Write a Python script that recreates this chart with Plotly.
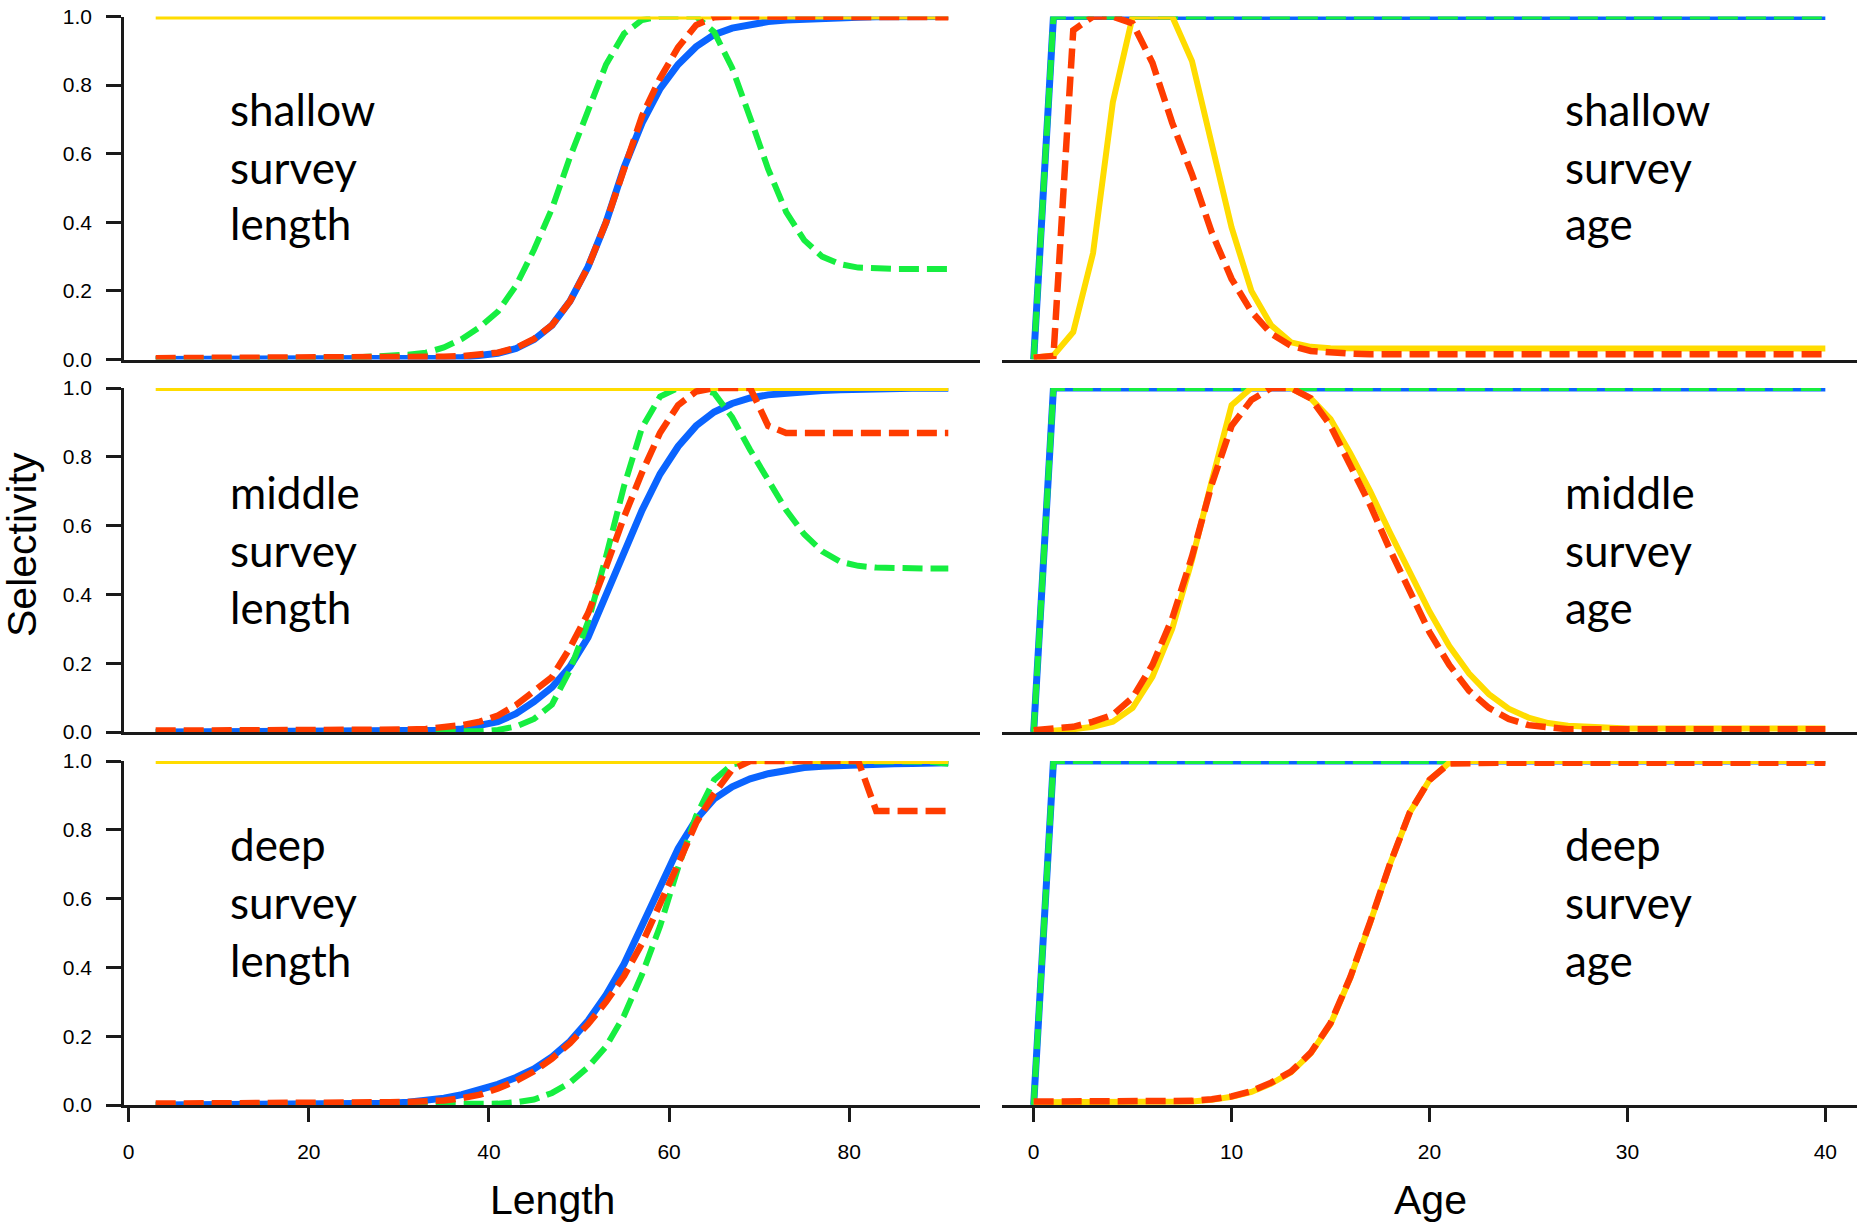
import plotly.graph_objects as go

# ---------------- data ----------------
len_x = [3, 5, 7, 9, 11, 13, 15, 17, 19, 21, 23, 25, 27, 29, 31, 33, 35, 37, 39, 41, 43, 45,
         47, 49, 51, 53, 55, 57, 59, 61, 63, 65, 67, 69, 71, 73, 75, 77, 79, 81, 83, 85, 87, 89, 91]
age_x = [0, 1, 2, 3, 4, 5, 6, 7, 8, 9, 10, 11, 12, 13, 14, 15, 16, 17, 18, 19, 20,
         21, 22, 23, 24, 25, 26, 27, 28, 29, 30, 31, 32, 33, 34, 35, 36, 37, 38, 39, 40]

x_ticks_len = [0, 20, 40, 60, 80]
x_ticks_age = [0, 10, 20, 30, 40]
y_ticks = [0.0, 0.2, 0.4, 0.6, 0.8, 1.0]
y_tick_text = ["0.0", "0.2", "0.4", "0.6", "0.8", "1.0"]

panel_labels = [["shallow", "survey", "length"], ["shallow", "survey", "age"],
                ["middle", "survey", "length"], ["middle", "survey", "age"],
                ["deep", "survey", "length"], ["deep", "survey", "age"]]

# shallow survey, length
shallow_len_blue = [0.000, 0.000, 0.000, 0.000, 0.000, 0.001, 0.001, 0.001, 0.001, 0.001, 0.001, 0.001,
                    0.002, 0.002, 0.002, 0.003, 0.004, 0.006, 0.010, 0.018, 0.032, 0.058, 0.100, 0.170,
                    0.270, 0.400, 0.560, 0.690, 0.790, 0.860, 0.912, 0.947, 0.966, 0.978, 0.985, 0.990,
                    0.993, 0.995, 0.997, 0.998, 0.999, 0.999, 0.999, 1.000, 1.000]
shallow_len_green = [0.001, 0.001, 0.001, 0.001, 0.002, 0.002, 0.002, 0.003, 0.003, 0.004, 0.005, 0.006,
                     0.008, 0.010, 0.014, 0.020, 0.035, 0.060, 0.095, 0.140, 0.215, 0.320, 0.440, 0.590,
                     0.720, 0.860, 0.950, 0.990, 1.000, 1.000, 1.000, 0.955, 0.850, 0.705, 0.555, 0.430,
                     0.348, 0.300, 0.278, 0.268, 0.265, 0.264, 0.264, 0.264, 0.264]
shallow_len_yellow = [1.0, 1.0, 1.0, 1.0, 1.0, 1.0, 1.0, 1.0, 1.0, 1.0, 1.0, 1.0, 1.0, 1.0, 1.0,
                      1.0, 1.0, 1.0, 1.0, 1.0, 1.0, 1.0, 1.0, 1.0, 1.0, 1.0, 1.0, 1.0, 1.0, 1.0,
                      1.0, 1.0, 1.0, 1.0, 1.0, 1.0, 1.0, 1.0, 1.0, 1.0, 1.0, 1.0, 1.0, 1.0, 1.0]
shallow_len_red = [0.004, 0.004, 0.004, 0.005, 0.005, 0.005, 0.005, 0.005, 0.006, 0.006, 0.006, 0.006,
                   0.007, 0.007, 0.007, 0.008, 0.008, 0.010, 0.014, 0.020, 0.034, 0.060, 0.100, 0.170,
                   0.270, 0.400, 0.555, 0.710, 0.820, 0.910, 0.975, 0.998, 1.000, 1.000, 1.000, 1.000,
                   1.000, 1.000, 1.000, 1.000, 1.000, 1.000, 1.000, 1.000, 0.998]

# middle survey, length
middle_len_blue = [0.000, 0.000, 0.000, 0.000, 0.000, 0.001, 0.001, 0.001, 0.001, 0.001, 0.001, 0.002,
                   0.002, 0.002, 0.003, 0.004, 0.005, 0.009, 0.017, 0.030, 0.053, 0.088, 0.130, 0.190,
                   0.275, 0.395, 0.520, 0.645, 0.750, 0.830, 0.890, 0.930, 0.955, 0.971, 0.980, 0.986,
                   0.990, 0.993, 0.995, 0.997, 0.998, 0.999, 0.999, 0.999, 0.999]
middle_len_green = [0.000, 0.000, 0.000, 0.000, 0.000, 0.000, 0.000, 0.000, 0.000, 0.000, 0.000, 0.000,
                    0.000, 0.000, 0.000, 0.000, 0.000, 0.000, 0.002, 0.006, 0.016, 0.038, 0.080, 0.180,
                    0.320, 0.510, 0.715, 0.885, 0.975, 1.000, 1.000, 0.985, 0.915, 0.820, 0.730, 0.645,
                    0.575, 0.525, 0.495, 0.483, 0.478, 0.476, 0.475, 0.475, 0.475]
middle_len_yellow = [1.0, 1.0, 1.0, 1.0, 1.0, 1.0, 1.0, 1.0, 1.0, 1.0, 1.0, 1.0, 1.0, 1.0, 1.0,
                     1.0, 1.0, 1.0, 1.0, 1.0, 1.0, 1.0, 1.0, 1.0, 1.0, 1.0, 1.0, 1.0, 1.0, 1.0,
                     1.0, 1.0, 1.0, 1.0, 1.0, 1.0, 1.0, 1.0, 1.0, 1.0, 1.0, 1.0, 1.0, 1.0, 1.0]
middle_len_red = [0.004, 0.004, 0.004, 0.004, 0.005, 0.005, 0.005, 0.005, 0.005, 0.006, 0.006, 0.006,
                  0.006, 0.007, 0.007, 0.009, 0.013, 0.020, 0.030, 0.048, 0.078, 0.120, 0.160, 0.245,
                  0.345, 0.480, 0.625, 0.755, 0.870, 0.950, 0.990, 1.000, 1.000, 1.000, 0.890, 0.869,
                  0.869, 0.869, 0.869, 0.869, 0.869, 0.869, 0.869, 0.869, 0.869]

# deep survey, length
deep_len_blue = [0.000, 0.000, 0.000, 0.001, 0.001, 0.001, 0.001, 0.001, 0.002, 0.002, 0.002, 0.003,
                 0.004, 0.005, 0.008, 0.012, 0.020, 0.030, 0.043, 0.060, 0.080, 0.105, 0.140, 0.185,
                 0.245, 0.320, 0.410, 0.520, 0.635, 0.745, 0.830, 0.890, 0.925, 0.948, 0.963, 0.974,
                 0.981, 0.985, 0.988, 0.990, 0.991, 0.992, 0.993, 0.994, 0.995]
deep_len_green = [0.000, 0.000, 0.000, 0.000, 0.000, 0.000, 0.000, 0.000, 0.000, 0.000, 0.000, 0.000,
                  0.000, 0.000, 0.000, 0.000, 0.000, 0.001, 0.002, 0.004, 0.008, 0.016, 0.035, 0.065,
                  0.110, 0.170, 0.260, 0.380, 0.520, 0.690, 0.840, 0.945, 0.990, 1.000, 1.000, 1.000,
                  1.000, 1.000, 1.000, 1.000, 1.000, 1.000, 1.000, 0.998, 0.992]
deep_len_yellow = [1.0, 1.0, 1.0, 1.0, 1.0, 1.0, 1.0, 1.0, 1.0, 1.0, 1.0, 1.0, 1.0, 1.0, 1.0,
                   1.0, 1.0, 1.0, 1.0, 1.0, 1.0, 1.0, 1.0, 1.0, 1.0, 1.0, 1.0, 1.0, 1.0, 1.0,
                   1.0, 1.0, 1.0, 1.0, 1.0, 1.0, 1.0, 1.0, 1.0, 1.0, 1.0, 1.0, 1.0, 1.0, 1.0]
deep_len_red = [0.004, 0.004, 0.004, 0.005, 0.005, 0.005, 0.005, 0.006, 0.006, 0.006, 0.007, 0.007,
                0.008, 0.008, 0.009, 0.010, 0.013, 0.020, 0.030, 0.048, 0.070, 0.098, 0.135, 0.180,
                0.235, 0.300, 0.375, 0.470, 0.580, 0.700, 0.820, 0.905, 0.975, 1.000, 1.000, 1.000,
                1.000, 1.000, 1.000, 1.000, 0.855, 0.855, 0.855, 0.855, 0.855]

# shallow survey, age
shallow_age_blue = [0.0, 1.0, 1.0, 1.0, 1.0, 1.0, 1.0, 1.0, 1.0, 1.0, 1.0, 1.0, 1.0, 1.0,
                    1.0, 1.0, 1.0, 1.0, 1.0, 1.0, 1.0, 1.0, 1.0, 1.0, 1.0, 1.0, 1.0, 1.0,
                    1.0, 1.0, 1.0, 1.0, 1.0, 1.0, 1.0, 1.0, 1.0, 1.0, 1.0, 1.0, 1.0]
shallow_age_green = [0.0, 1.0, 1.0, 1.0, 1.0, 1.0, 1.0, 1.0, 1.0, 1.0, 1.0, 1.0, 1.0, 1.0,
                     1.0, 1.0, 1.0, 1.0, 1.0, 1.0, 1.0, 1.0, 1.0, 1.0, 1.0, 1.0, 1.0, 1.0,
                     1.0, 1.0, 1.0, 1.0, 1.0, 1.0, 1.0, 1.0, 1.0, 1.0, 1.0, 1.0, 1.0]
shallow_age_yellow = [0.005, 0.012, 0.080, 0.310, 0.750, 1.000, 1.000, 1.000, 0.870, 0.620, 0.385,
                      0.200, 0.100, 0.050, 0.037, 0.033, 0.032, 0.032, 0.032, 0.032, 0.032, 0.032,
                      0.032, 0.032, 0.032, 0.032, 0.032, 0.032, 0.032, 0.032, 0.032, 0.032, 0.032,
                      0.032, 0.032, 0.032, 0.032, 0.032, 0.032, 0.032, 0.032]
shallow_age_red = [0.005, 0.010, 0.960, 1.000, 1.000, 0.980, 0.865, 0.690, 0.540, 0.370, 0.235,
                   0.140, 0.075, 0.040, 0.025, 0.020, 0.017, 0.015, 0.015, 0.015, 0.015, 0.015,
                   0.015, 0.015, 0.015, 0.015, 0.015, 0.015, 0.015, 0.015, 0.015, 0.015, 0.015,
                   0.015, 0.015, 0.015, 0.015, 0.015, 0.015, 0.015, 0.015]

# middle survey, age
middle_age_blue = [0.0, 1.0, 1.0, 1.0, 1.0, 1.0, 1.0, 1.0, 1.0, 1.0, 1.0, 1.0, 1.0, 1.0,
                   1.0, 1.0, 1.0, 1.0, 1.0, 1.0, 1.0, 1.0, 1.0, 1.0, 1.0, 1.0, 1.0, 1.0,
                   1.0, 1.0, 1.0, 1.0, 1.0, 1.0, 1.0, 1.0, 1.0, 1.0, 1.0, 1.0, 1.0]
middle_age_green = [0.0, 1.0, 1.0, 1.0, 1.0, 1.0, 1.0, 1.0, 1.0, 1.0, 1.0, 1.0, 1.0, 1.0,
                    1.0, 1.0, 1.0, 1.0, 1.0, 1.0, 1.0, 1.0, 1.0, 1.0, 1.0, 1.0, 1.0, 1.0,
                    1.0, 1.0, 1.0, 1.0, 1.0, 1.0, 1.0, 1.0, 1.0, 1.0, 1.0, 1.0, 1.0]
middle_age_yellow = [0.000, 0.002, 0.008, 0.015, 0.030, 0.070, 0.160, 0.300, 0.500, 0.730, 0.950,
                     1.000, 1.000, 1.000, 0.970, 0.910, 0.810, 0.700, 0.580, 0.465, 0.350, 0.250,
                     0.170, 0.110, 0.068, 0.042, 0.026, 0.018, 0.014, 0.012, 0.010, 0.010, 0.010,
                     0.010, 0.010, 0.010, 0.010, 0.010, 0.010, 0.010, 0.010]
middle_age_red = [0.005, 0.010, 0.015, 0.030, 0.050, 0.100, 0.195, 0.330, 0.510, 0.720, 0.890,
                  0.965, 1.000, 1.000, 0.970, 0.890, 0.780, 0.660, 0.530, 0.405, 0.290, 0.195,
                  0.120, 0.070, 0.038, 0.020, 0.012, 0.008, 0.008, 0.008, 0.008, 0.008, 0.008,
                  0.008, 0.008, 0.008, 0.008, 0.008, 0.008, 0.008, 0.008]

# deep survey, age
deep_age_blue = [0.0, 1.0, 1.0, 1.0, 1.0, 1.0, 1.0, 1.0, 1.0, 1.0, 1.0, 1.0, 1.0, 1.0,
                 1.0, 1.0, 1.0, 1.0, 1.0, 1.0, 1.0, 1.0, 1.0, 1.0, 1.0, 1.0, 1.0, 1.0,
                 1.0, 1.0, 1.0, 1.0, 1.0, 1.0, 1.0, 1.0, 1.0, 1.0, 1.0, 1.0, 1.0]
deep_age_green = [0.0, 1.0, 1.0, 1.0, 1.0, 1.0, 1.0, 1.0, 1.0, 1.0, 1.0, 1.0, 1.0, 1.0,
                  1.0, 1.0, 1.0, 1.0, 1.0, 1.0, 1.0, 1.0, 1.0, 1.0, 1.0, 1.0, 1.0, 1.0,
                  1.0, 1.0, 1.0, 1.0, 1.0, 1.0, 1.0, 1.0, 1.0, 1.0, 1.0, 1.0, 1.0]
deep_age_yellow = [0.008, 0.008, 0.008, 0.008, 0.008, 0.008, 0.008, 0.008, 0.010, 0.015, 0.024,
                   0.038, 0.062, 0.095, 0.150, 0.235, 0.370, 0.530, 0.700, 0.850, 0.945, 0.995,
                   1.000, 1.000, 1.000, 1.000, 1.000, 1.000, 1.000, 1.000, 1.000, 1.000, 1.000,
                   1.000, 1.000, 1.000, 1.000, 1.000, 1.000, 1.000, 1.000]
deep_age_red = [0.010, 0.010, 0.010, 0.010, 0.010, 0.010, 0.010, 0.010, 0.012, 0.017, 0.025,
                0.040, 0.065, 0.097, 0.152, 0.238, 0.372, 0.532, 0.700, 0.850, 0.945, 0.993,
                0.995, 0.995, 0.995, 0.995, 0.995, 0.995, 0.995, 0.995, 0.995, 0.995, 0.995,
                0.995, 0.995, 0.995, 0.995, 0.995, 0.995, 0.995, 0.995]

# ---------------- styling ----------------
W, H = 1863, 1225
BLUE = "#0A64FF"
GREEN = "#16EE40"
YELLOW = "#FFDC00"
RED = "#FF3C00"
AXIS_COL = "#1a1a1a"
TICK_FONT = dict(family="Liberation Sans, Arial, sans-serif", size=21, color="black")
LABEL_FONT = dict(family="Lato, Carlito, sans-serif", size=44, color="black")
TITLE_FONT = dict(family="Liberation Sans, Arial, sans-serif", size=41, color="black")
DASH = "20px,8px"

# pixel geometry -> paper fractions
def px_x(p):
    return p / W

def px_y(p):
    return 1 - p / H

left_dom = [px_x(124), px_x(980)]
right_dom = [px_x(1002), px_x(1857)]
row_doms = [[px_y(359.5), px_y(16.5)], [px_y(732), px_y(388)], [px_y(1105), px_y(761)]]
len_range = [-0.52, 94.52]
age_range = [-1.6, 41.6]

panels = [
    (len_x, shallow_len_blue, shallow_len_green, shallow_len_yellow, shallow_len_red),
    (age_x, shallow_age_blue, shallow_age_green, shallow_age_yellow, shallow_age_red),
    (len_x, middle_len_blue, middle_len_green, middle_len_yellow, middle_len_red),
    (age_x, middle_age_blue, middle_age_green, middle_age_yellow, middle_age_red),
    (len_x, deep_len_blue, deep_len_green, deep_len_yellow, deep_len_red),
    (age_x, deep_age_blue, deep_age_green, deep_age_yellow, deep_age_red),
]

fig = go.Figure()
layout = dict(
    width=W, height=H, autosize=False,
    margin=dict(l=0, r=0, t=0, b=0, pad=0),
    paper_bgcolor="white", plot_bgcolor="white",
    showlegend=False, hovermode=False,
)

# label y positions (data units) for each row, x positions for each column
label_y = [[0.730, 0.561, 0.397], [0.698, 0.529, 0.363], [0.759, 0.590, 0.422]]
label_x = [11.0, 26.75]

annotations = []
for i, (xs, yb, yg, yy, yr) in enumerate(panels):
    row, col = i // 2, i % 2
    n = i + 1
    xa = "x" if n == 1 else f"x{n}"
    ya = "y" if n == 1 else f"y{n}"
    for ys, color, width, dash in [(yb, BLUE, 7, "solid"), (yg, GREEN, 6, DASH),
                                   (yy, YELLOW, 6, "solid"), (yr, RED, 6.5, DASH)]:
        fig.add_trace(go.Scatter(x=xs, y=ys, mode="lines", xaxis=xa, yaxis=ya,
                                 line=dict(color=color, width=width, dash=dash),
                                 hoverinfo="skip", showlegend=False))
    bottom = row == 2
    xkey = "xaxis" if n == 1 else f"xaxis{n}"
    ykey = "yaxis" if n == 1 else f"yaxis{n}"
    layout[xkey] = dict(
        domain=left_dom if col == 0 else right_dom,
        range=len_range if col == 0 else age_range,
        anchor=ya, showline=True, linecolor=AXIS_COL, linewidth=2.5,
        showgrid=False, zeroline=False, automargin=False,
        ticks="outside" if bottom else "", ticklen=14, tickwidth=2.5, tickcolor=AXIS_COL,
        tickvals=(x_ticks_len if col == 0 else x_ticks_age) if bottom else [],
        showticklabels=bottom, tickfont=TICK_FONT, ticklabelstandoff=12,
        fixedrange=True,
    )
    layout[ykey] = dict(
        domain=row_doms[row], range=[0, 1], anchor=xa,
        visible=(col == 0), showline=True, linecolor=AXIS_COL, linewidth=2.5,
        showgrid=False, zeroline=False, automargin=False,
        ticks="outside", ticklen=15, tickwidth=2.5, tickcolor=AXIS_COL,
        tickvals=y_ticks, ticktext=y_tick_text, tickfont=TICK_FONT,
        ticklabelstandoff=10, fixedrange=True,
    )
    for k, word in enumerate(panel_labels[i]):
        annotations.append(dict(
            text=word, xref=xa, yref=ya, x=label_x[col], y=label_y[row][k],
            xanchor="left", yanchor="middle", showarrow=False, font=LABEL_FONT,
        ))

annotations.append(dict(text="Selectivity", xref="paper", yref="paper",
                        x=px_x(22), y=px_y(545), textangle=-90,
                        xanchor="center", yanchor="middle", showarrow=False, font=TITLE_FONT))
annotations.append(dict(text="Length", xref="paper", yref="paper",
                        x=px_x(552), y=px_y(1200), xanchor="center", yanchor="middle",
                        showarrow=False, font=TITLE_FONT))
annotations.append(dict(text="Age", xref="paper", yref="paper",
                        x=px_x(1430), y=px_y(1200), xanchor="center", yanchor="middle",
                        showarrow=False, font=TITLE_FONT))
layout["annotations"] = annotations

fig.update_layout(**layout)
fig.write_html("out.html")
